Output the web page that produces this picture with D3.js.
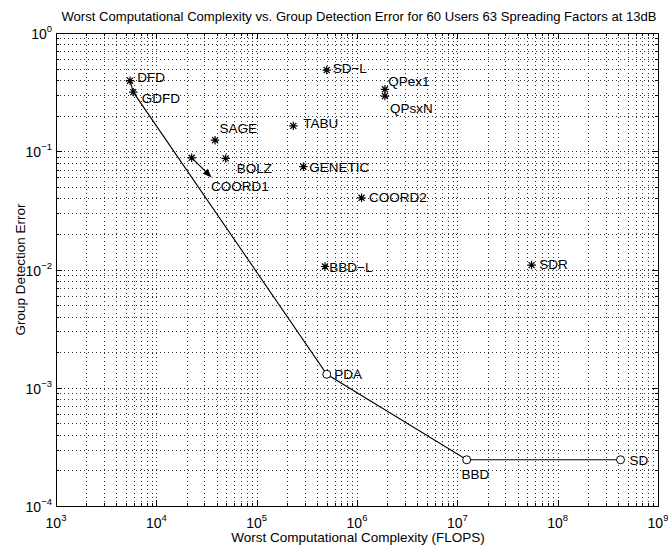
<!DOCTYPE html>
<html><head><meta charset="utf-8">
<script src="https://cdn.jsdelivr.net/npm/d3@7"></script>
<style>body{margin:0;background:#fff}svg{display:block}text{font-family:"Liberation Sans",Arial,sans-serif}</style>
</head><body>
<svg id="c" width="668" height="546"></svg>
<script>
// ---- data ----
const starNames = ["DFD","GDFD","SAGE","BOLZ","COORD1","SD-L","QPex1","QPsxN","TABU","GENETIC","COORD2","BBD-L","SDR"];
const starFlops = [5.47e3,5.89e3,3.85e4,4.91e4,2.25e4,4.99e5,1.9e6,1.9e6,2.32e5,2.92e5,1.11e6,4.8e5,5.5e7];
const starError = [0.395,0.316,0.124,0.087,0.088,0.486,0.334,0.293,0.164,0.074,0.0404,0.0106,0.0109];
const circleNames = ["PDA","BBD","SD"];
const circleFlops = [5.0e5,1.24e7,4.23e8];
const circleError = [1.30e-3,2.46e-4,2.46e-4];
const frontierFlops = [5.47e3,5.89e3,5.0e5,1.24e7,4.23e8];
const frontierError = [0.395,0.316,1.30e-3,2.46e-4,2.46e-4];
// text labels in data coordinates (left edge, vertical middle)
const labelNames = ["DFD","GDFD","SAGE","BOLZ","COORD1","SD\u2212L","QPex1","QPsxN","TABU","GENETIC","COORD2","BBD\u2212L","SDR","PDA","BBD","SD"];
const labelFlops = [6.46e3,7.14e3,4.25e4,6.32e4,3.51e4,5.73e5,2.05e6,2.13e6,2.92e5,3.35e5,1.32e6,5.3e5,6.56e7,5.93e5,1.10e7,5.2e8];
const labelError = [0.427,0.281,0.156,0.0726,0.0508,0.502,0.395,0.231,0.172,0.0731,0.0413,0.0106,0.0111,1.30e-3,1.88e-4,2.43e-4];
const arrowFrom = [2.25e4,0.088];
const arrowTo = [3.56e4,0.060];
const xDecades = [3,4,5,6,7,8,9];
const yDecades = [-4,-3,-2,-1,0];
const titleText = "Worst Computational Complexity vs. Group Detection Error for 60 Users 63 Spreading Factors at 13dB";
const xLabelText = "Worst Computational Complexity (FLOPS)";
const yLabelText = "Group Detection Error";

// ---- layout ----
const L=56, R=658, T=33, B=506;
const svg=d3.select("#c");
const x=d3.scaleLog().domain([1e3,1e9]).range([L,R]);
const y=d3.scaleLog().domain([1e-4,1]).range([B,T]);

function minors(decs){const a=[];for(let i=0;i<decs.length-1;i++){for(let k=2;k<=9;k++)a.push(k*Math.pow(10,decs[i]));}return a;}
const xMaj=xDecades.map(d=>Math.pow(10,d)), yMaj=yDecades.map(d=>Math.pow(10,d));
const xMin=minors(xDecades), yMin=minors(yDecades);

const g=svg.append("g");
// grid
const gridStyle=s=>s.attr("stroke","#333").attr("stroke-width",1).attr("stroke-dasharray","1,3").attr("shape-rendering","crispEdges");
g.selectAll(".gx").data(xMaj.slice(1,-1).concat(xMin)).enter().append("line")
 .attr("x1",d=>Math.round(x(d))+0.5).attr("x2",d=>Math.round(x(d))+0.5).attr("y1",T).attr("y2",B).call(gridStyle);
g.selectAll(".gy").data(yMaj.slice(1,-1).concat(yMin)).enter().append("line")
 .attr("y1",d=>Math.round(y(d))+0.5).attr("y2",d=>Math.round(y(d))+0.5).attr("x1",L).attr("x2",R).call(gridStyle);

// ticks on all four sides
const tk=(sel)=>sel.attr("stroke","#000").attr("stroke-width",1).attr("shape-rendering","crispEdges");
const xt=[...xMaj.map(v=>[v,6]),...xMin.map(v=>[v,3])];
const yt=[...yMaj.map(v=>[v,6]),...yMin.map(v=>[v,3])];
xt.forEach(([v,l])=>{const px=Math.round(x(v))+0.5;
  g.append("line").attr("x1",px).attr("x2",px).attr("y1",B).attr("y2",B-l).call(tk);
  g.append("line").attr("x1",px).attr("x2",px).attr("y1",T).attr("y2",T+l).call(tk);});
yt.forEach(([v,l])=>{const py=Math.round(y(v))+0.5;
  g.append("line").attr("y1",py).attr("y2",py).attr("x1",L).attr("x2",L+l).call(tk);
  g.append("line").attr("y1",py).attr("y2",py).attr("x1",R).attr("x2",R-l).call(tk);});
// frame
g.append("rect").attr("x",L+0.5).attr("y",T+0.5).attr("width",R-L).attr("height",B-T)
 .attr("fill","none").attr("stroke","#000").attr("stroke-width",1).attr("shape-rendering","crispEdges");

// tick labels
const fs=14;
xDecades.forEach(d=>{
  const t=g.append("text").attr("x",x(Math.pow(10,d))).attr("y",B+22).attr("text-anchor","middle").attr("font-size",fs);
  t.append("tspan").text("10");
  t.append("tspan").attr("dy",-7).attr("font-size",9.5).text(String(d).replace("-","\u2212"));
});
yDecades.forEach(d=>{
  const t=g.append("text").attr("x",L-4).attr("y",y(Math.pow(10,d))+6).attr("text-anchor","end").attr("font-size",fs);
  t.append("tspan").text("10");
  t.append("tspan").attr("dy",-7).attr("font-size",9.5).text(String(d).replace("-","\u2212"));
});

// titles
svg.append("text").attr("x",(L+R)/2+2).attr("y",T-12).attr("text-anchor","middle").attr("font-size",13.1).text(titleText);
svg.append("text").attr("x",(L+R)/2+1).attr("y",542).attr("text-anchor","middle").attr("font-size",13.5).text(xLabelText);
svg.append("text").attr("transform",`translate(25,${(T+B)/2}) rotate(-90)`).attr("text-anchor","middle").attr("font-size",13.5).text(yLabelText);

// frontier line
const line=d3.line().x(d=>x(d[0])).y(d=>y(d[1]));
g.append("path").datum(frontierFlops.map((f,i)=>[f,frontierError[i]])).attr("d",line)
 .attr("fill","none").attr("stroke","#000").attr("stroke-width",1.1);

// arrow
const ax1=x(arrowFrom[0]), ay1=y(arrowFrom[1]), ax2=x(arrowTo[0]), ay2=y(arrowTo[1]);
const ang=Math.atan2(ay2-ay1,ax2-ax1), hl=9, hw=3.5;
g.append("line").attr("x1",ax1).attr("y1",ay1).attr("x2",ax2-Math.cos(ang)*hl*0.8).attr("y2",ay2-Math.sin(ang)*hl*0.8)
 .attr("stroke","#000").attr("stroke-width",1.2);
const bx=ax2-Math.cos(ang)*hl, by=ay2-Math.sin(ang)*hl;
g.append("path").attr("d",`M${ax2},${ay2}L${bx-Math.sin(ang)*hw},${by+Math.cos(ang)*hw}L${bx+Math.sin(ang)*hw},${by-Math.cos(ang)*hw}Z`).attr("fill","#000");

// star markers
const star=(px,py,s)=>`M${px-s},${py}H${px+s}M${px},${py-s}V${py+s}M${px-s*0.72},${py-s*0.72}L${px+s*0.72},${py+s*0.72}M${px-s*0.72},${py+s*0.72}L${px+s*0.72},${py-s*0.72}`;
g.selectAll(".st").data(starFlops.map((f,i)=>[f,starError[i]])).enter().append("path")
 .attr("d",d=>star(x(d[0]),y(d[1]),4.2)).attr("stroke","#000").attr("stroke-width",1.2).attr("fill","none");
// circle markers
g.selectAll(".ci").data(circleFlops.map((f,i)=>[f,circleError[i]])).enter().append("circle")
 .attr("cx",d=>x(d[0])).attr("cy",d=>y(d[1])).attr("r",4).attr("fill","#fff").attr("stroke","#000").attr("stroke-width",1);

// labels
g.selectAll(".lb").data(labelNames.map((n,i)=>[n,labelFlops[i],labelError[i]])).enter().append("text")
 .attr("x",d=>x(d[1])).attr("y",d=>y(d[2])+5).attr("font-size",13.5).text(d=>d[0]);
</script>
</body></html>
